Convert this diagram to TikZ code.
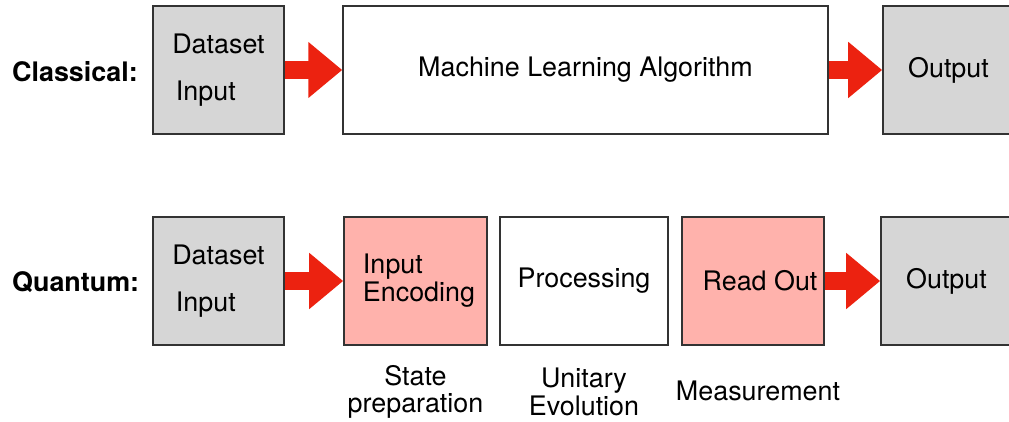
\documentclass[tikz,border=0pt]{standalone}
\usepackage{fontspec}
\setmainfont{TeX Gyre Heros}
\usetikzlibrary{arrows.meta}
\definecolor{boxgrey}{RGB}{214,214,214}
\definecolor{boxpink}{RGB}{255,178,172}
\definecolor{arrowred}{RGB}{236,34,16}
\definecolor{edgegrey}{RGB}{51,51,51}

\begin{document}
\begin{tikzpicture}[x=0.02cm, y=-0.02cm,
    stagebox/.style={rectangle, draw=edgegrey, line width=0.9pt, minimum height=2.55cm,
                 inner sep=2pt, align=center, font=\fontsize{15.3}{16}\selectfont},
    databox/.style={stagebox, fill=boxgrey, minimum width=2.62cm},
    fatarr/.style={-{Triangle[length=0.68cm, width=1.08cm]}, line width=0.36cm, arrowred},
    rowlabel/.style={anchor=west, font=\fontsize{15.3}{16}\selectfont\bfseries},
    steplabel/.style={align=center, font=\fontsize{15.3}{15.5}\selectfont}
]
\useasboundingbox (0,0) rectangle (1009,422);

% classical pipeline
\node[rowlabel] (lclass) at (6,72) {Classical:};
\node[databox, align=left]                    (cin)  at (218.5,70) {Dataset\\[0.38cm]\hspace{2pt}Input};
\node[stagebox, minimum width=9.7cm]          (cml)  at (585.5,70) {Machine Learning Algorithm};
\node[databox]                                (cout) at (948.5,70) {Output};

\draw[fatarr] (cin.east) -- (cml.west);
\draw[fatarr] (cml.east) -- (cout.west);

% quantum pipeline
\node[rowlabel] (lquant) at (6,282) {Quantum:};
\node[databox, align=left]                              (qin)   at (218.5,281) {Dataset\\[0.38cm]\hspace{2pt}Input};
\node[stagebox, fill=boxpink, minimum width=2.86cm, align=left] (qenc) at (415.5,281) {\hspace{4pt}Input\\\hspace{4pt}Encoding};
\node[stagebox, minimum width=3.36cm]                   (qproc) at (584,281)   {Processing};
\node[stagebox, fill=boxpink, minimum width=2.84cm]     (qread) at (753,281)   {\hspace{8pt}Read Out};
\node[databox]                                          (qout)  at (946.5,281) {Output};

\draw[fatarr] (qin.east) -- (qenc.west);
\draw[fatarr] (qread.east) -- (qout.west);

% what each quantum stage does
\node[steplabel] (sprep) at (415.5,392) {State\\preparation};
\node[steplabel] (suni)  at (584,392)   {Unitary\\Evolution};
\node[steplabel] (smeas) at (758,391)   {Measurement};
\end{tikzpicture}
\end{document}
